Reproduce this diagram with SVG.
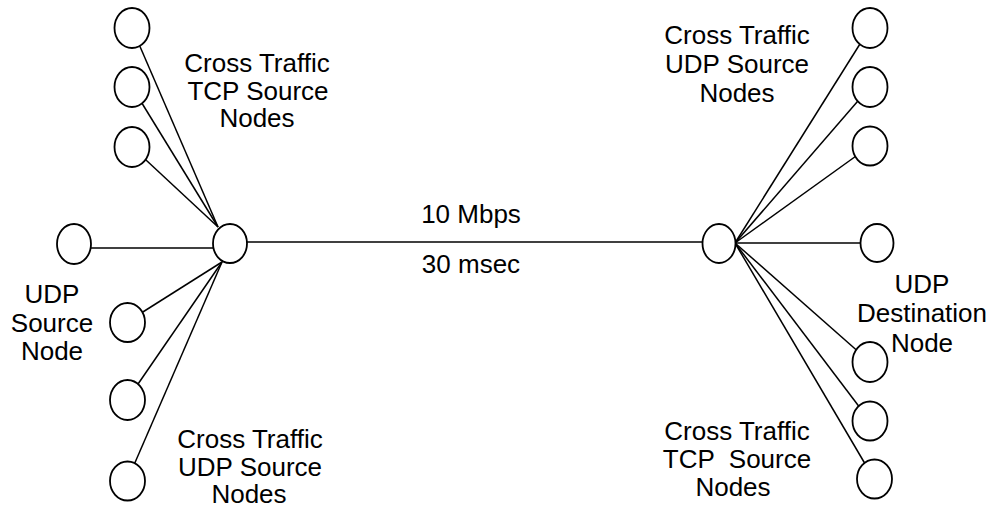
<svg xmlns="http://www.w3.org/2000/svg" width="991" height="512" viewBox="0 0 991 512">
<style>
.n{fill:#fff;stroke:#000;stroke-width:1.8}
.c{stroke:#000;stroke-width:1.5;fill:none}
text{font-family:"Liberation Sans",Arial,sans-serif;font-size:26px;fill:#000;text-anchor:middle;white-space:pre}
</style>
<rect width="991" height="512" fill="#fff"/>
<g id="connectors">
<line class="c" x1="132" y1="28" x2="218" y2="227"/>
<line class="c" x1="132" y1="87" x2="218" y2="227"/>
<line class="c" x1="132" y1="147" x2="218" y2="227"/>
<line class="c" x1="74" y1="248" x2="213" y2="248"/>
<line class="c" x1="127" y1="322" x2="222" y2="262"/>
<line class="c" x1="127" y1="400" x2="222" y2="262"/>
<line class="c" x1="127" y1="481" x2="222" y2="262"/>
<line class="c" x1="247" y1="242" x2="703" y2="242"/>
<line class="c" x1="870" y1="28" x2="735" y2="243"/>
<line class="c" x1="870" y1="87" x2="735" y2="243"/>
<line class="c" x1="870" y1="146" x2="735" y2="243"/>
<line class="c" x1="877" y1="243" x2="735" y2="243"/>
<line class="c" x1="870" y1="362" x2="735" y2="243"/>
<line class="c" x1="870" y1="421" x2="735" y2="243"/>
<line class="c" x1="874" y1="479" x2="735" y2="243"/>
</g>
<g id="hub-left"><ellipse class="n" cx="230" cy="243.5" rx="17" ry="19.5"/></g>
<g id="hub-right"><ellipse class="n" cx="719" cy="243.5" rx="16.5" ry="19.5"/></g>
<g id="tcp-src-1"><ellipse class="n" cx="132" cy="28" rx="17.5" ry="20"/></g>
<g id="tcp-src-2"><ellipse class="n" cx="132" cy="87" rx="17.5" ry="20"/></g>
<g id="tcp-src-3"><ellipse class="n" cx="132" cy="147" rx="17.5" ry="20"/></g>
<g id="udp-src"><ellipse class="n" cx="74" cy="244" rx="17" ry="20"/></g>
<g id="udp-cross-src-1"><ellipse class="n" cx="127.5" cy="322.5" rx="17.5" ry="19.5"/></g>
<g id="udp-cross-src-2"><ellipse class="n" cx="127.5" cy="400" rx="17.5" ry="20"/></g>
<g id="udp-cross-src-3"><ellipse class="n" cx="127.5" cy="481" rx="17.5" ry="19.5"/></g>
<g id="udp-cross-dst-1"><ellipse class="n" cx="870" cy="28" rx="17.5" ry="20"/></g>
<g id="udp-cross-dst-2"><ellipse class="n" cx="870" cy="87" rx="17.5" ry="20"/></g>
<g id="udp-cross-dst-3"><ellipse class="n" cx="870" cy="146" rx="17.5" ry="19.5"/></g>
<g id="udp-dst"><ellipse class="n" cx="877" cy="243" rx="16.5" ry="19"/></g>
<g id="tcp-dst-1"><ellipse class="n" cx="870" cy="362" rx="17.5" ry="20"/></g>
<g id="tcp-dst-2"><ellipse class="n" cx="870" cy="421" rx="17.5" ry="19.5"/></g>
<g id="tcp-dst-3"><ellipse class="n" cx="874.5" cy="479" rx="17.5" ry="19.5"/></g>
<g id="labels">
<text x="257" y="72">Cross Traffic</text>
<text x="258" y="99.5">TCP Source</text>
<text x="257" y="127">Nodes</text>
<text x="52" y="303">UDP</text>
<text x="52" y="331.5">Source</text>
<text x="52" y="360">Node</text>
<text x="250" y="448">Cross Traffic</text>
<text x="250" y="475.5">UDP Source</text>
<text x="249" y="503">Nodes</text>
<text x="471" y="223">10 Mbps</text>
<text x="471" y="273">30 msec</text>
<text x="737" y="44">Cross Traffic</text>
<text x="737" y="73">UDP Source</text>
<text x="737" y="102">Nodes</text>
<text x="922" y="293">UDP</text>
<text x="922" y="322">Destination</text>
<text x="922" y="352">Node</text>
<text x="737" y="440">Cross Traffic</text>
<text x="737" y="468">TCP  Source</text>
<text x="733" y="496">Nodes</text>
</g>
</svg>
